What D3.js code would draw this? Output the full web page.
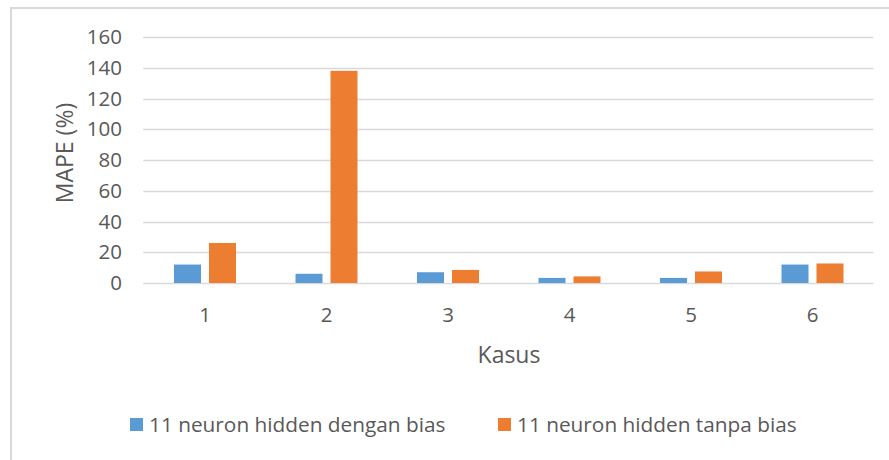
<!DOCTYPE html>
<html>
<head>
<meta charset="UTF-8">
<title>MAPE</title>
<script src="https://cdn.jsdelivr.net/npm/d3@7"></script>
<style>
    body{margin:0;background:#fff;}
    text{font-family:"Open Sans",Lato,sans-serif;fill:#595959;}
</style>
</head>
<body>
<script>
    // data
    var kasus=["1","2","3","4","5","6"];
    var seriesNames=["11 neuron hidden dengan bias","11 neuron hidden tanpa bias"];
    var denganBias=[12,6,7,3.3,3.3,12];
    var tanpaBias=[26,138,8.5,4.3,7.5,12.7];
    var yTicks=[0,20,40,60,80,100,120,140,160];
    var colors=["#5b9bd5","#ed7d31"];

    var W=889,H=460;
    var svg=d3.select("body").append("svg").attr("width",W).attr("height",H);

    // chart frame (only left + top edges visible)
    svg.append("path")
        .attr("d","M11,460 L11,8 L889,8")
        .attr("fill","none").attr("stroke","#d9d9d9").attr("stroke-width",2);

    var plotL=144.25,plotR=873.25,plotT=37,plotB=283;
    var x0=d3.scaleBand().domain(kasus).range([plotL,plotR]).padding(0);
    var groupW=62;
    var x1=d3.scaleBand().domain(seriesNames).range([0,groupW]).paddingInner(8/35);
    var y=d3.scaleLinear().domain([0,160]).range([plotB,plotT]);

    // gridlines
    svg.append("g").selectAll("line").data(yTicks).enter().append("line")
        .attr("x1",plotL-1).attr("x2",plotR)
        .attr("y1",function(d){return Math.round(y(d))+0.5;})
        .attr("y2",function(d){return Math.round(y(d))+0.5;})
        .attr("stroke","#d9d9d9").attr("stroke-width",1.3);

    // y tick labels
    svg.append("g").selectAll("text").data(yTicks).enter().append("text")
        .attr("x",122).attr("y",function(d){return y(d);})
        .attr("dy","0.35em").attr("text-anchor","end")
        .style("font-size","20.5px")
        .text(function(d){return d;});

    // bars
    var rows=kasus.map(function(k,i){return {k:k,v:[denganBias[i],tanpaBias[i]]};});
    var g=svg.append("g").selectAll("g").data(rows).enter().append("g")
        .attr("transform",function(d){
            return "translate("+(x0(d.k)+(x0.bandwidth()-groupW)/2)+",0)";
        });
    g.selectAll("rect").data(function(d){
            return d.v.map(function(v,j){return {s:seriesNames[j],v:v,j:j};});
        }).enter().append("rect")
        .attr("x",function(d){return x1(d.s);})
        .attr("width",x1.bandwidth())
        .attr("y",function(d){return y(d.v);})
        .attr("height",function(d){return y(0)-y(d.v);})
        .attr("fill",function(d){return colors[d.j];});

    // x tick labels
    svg.append("g").selectAll("text").data(kasus).enter().append("text")
        .attr("x",function(d){return x0(d)+x0.bandwidth()/2;})
        .attr("y",315).attr("dy","0.35em").attr("text-anchor","middle")
        .style("font-size","20.5px")
        .text(function(d){return d;});

    // axis titles
    svg.append("text").attr("x",509).attr("y",355).attr("dy","0.35em")
        .attr("text-anchor","middle").style("font-size","23px").text("Kasus");
    svg.append("text")
        .attr("transform","translate(65,153) rotate(-90)")
        .attr("dy","0.35em").attr("text-anchor","middle")
        .style("font-size","23px").text("MAPE (%)");

    // legend
    var legX=[130,498];
    var leg=svg.append("g").selectAll("g").data(seriesNames).enter().append("g")
        .attr("transform",function(d,i){return "translate("+legX[i]+",425)";});
    leg.append("rect").attr("x",0).attr("y",-7).attr("width",13).attr("height",13)
        .attr("fill",function(d,i){return colors[i];});
    leg.append("text").attr("x",19).attr("y",0).attr("dy","0.35em")
        .style("font-size","20.8px").text(function(d){return d;});
</script>
</body>
</html>
